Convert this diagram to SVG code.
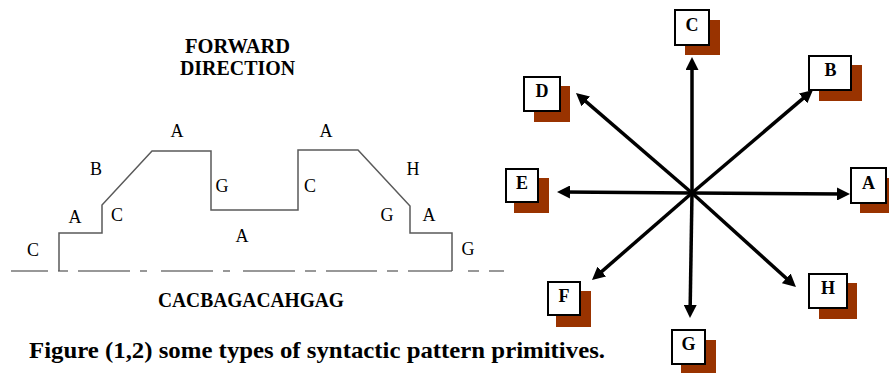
<svg xmlns="http://www.w3.org/2000/svg" width="889" height="373" viewBox="0 0 889 373">
<defs>
<style>
.lbl{font-family:'Liberation Serif',Tinos,'Times New Roman',Times,serif;font-size:18px;fill:#000;text-anchor:middle}
.bold{font-family:'Liberation Serif',Tinos,'Times New Roman',Times,serif;font-weight:bold;fill:#000}
.ttl{font-size:21px}
.prof{fill:none;stroke:#5a5a5a;stroke-width:1.5}
.base{fill:none;stroke:#333;stroke-width:1.2}
.box{fill:#fff;stroke:#000;stroke-width:2}
.shd{fill:#993300}
.blet{font-family:'Liberation Serif',Tinos,'Times New Roman',Times,serif;font-weight:bold;font-size:18px;text-anchor:middle;fill:#000}
.arr{stroke:#000;stroke-width:3.5;fill:none;marker-end:url(#ah)}
</style>
<marker id="ah" viewBox="0 0 13 13" refX="7" refY="6.5" markerWidth="13" markerHeight="13" markerUnits="userSpaceOnUse" orient="auto">
<path d="M0,0 L13,6.5 L0,13 z" fill="#000"/>
</marker>
</defs>
<rect width="889" height="373" fill="#fff"/>

<g id="left-diagram">
<text class="bold ttl" x="185" y="53" textLength="105" lengthAdjust="spacingAndGlyphs">FORWARD</text>
<text class="bold ttl" x="180" y="75" textLength="115" lengthAdjust="spacingAndGlyphs">DIRECTION</text>
<path class="base" d="M11,271H48 M58,271H68 M78,271H130 M140,271H147 M161,271H213 M223,271H230 M243,271H295 M305,271H316 M326,271H377 M387,271H398 M408,271H452 M468,271H479 M489,271H504"/>
<path class="prof" d="M59,271 V233 H102 V205 L152,151 H211 V210 H298 V150 H358 L410,206 V233 H452 V271"/>
<text class="lbl" x="33" y="256">C</text>
<text class="lbl" x="75" y="223">A</text>
<text class="lbl" x="117" y="221">C</text>
<text class="lbl" x="96" y="175">B</text>
<text class="lbl" x="177" y="137">A</text>
<text class="lbl" x="222" y="192">G</text>
<text class="lbl" x="310" y="192">C</text>
<text class="lbl" x="242" y="242">A</text>
<text class="lbl" x="326" y="137">A</text>
<text class="lbl" x="413" y="175">H</text>
<text class="lbl" x="387" y="221">G</text>
<text class="lbl" x="429" y="221">A</text>
<text class="lbl" x="468" y="255">G</text>
<text class="bold" x="158" y="307" font-size="20" textLength="186" lengthAdjust="spacingAndGlyphs">CACBAGACAHGAG</text>
</g>

<text class="bold" x="29" y="358" font-size="24" textLength="576" lengthAdjust="spacingAndGlyphs">Figure (1,2) some types of syntactic pattern primitives.</text>

<g id="connectors">
<line class="arr" x1="692" y1="193" x2="692" y2="63"/>
<line class="arr" x1="692" y1="193" x2="808.4" y2="93.9"/>
<line class="arr" x1="692" y1="193" x2="580.5" y2="96.9"/>
<line class="arr" x1="692" y1="193" x2="563" y2="192"/>
<line class="arr" x1="692" y1="193" x2="844" y2="194"/>
<line class="arr" x1="692" y1="193" x2="596.5" y2="276.1"/>
<line class="arr" x1="692" y1="193" x2="690.1" y2="312"/>
<line class="arr" x1="692" y1="193" x2="791.5" y2="283"/>
</g>

<g id="node-C"><rect class="shd" x="685" y="20" width="35" height="35"/><rect class="box" x="675" y="10" width="34" height="35"/><text class="blet" x="692" y="30.5">C</text></g>
<g id="node-B"><rect class="shd" x="819" y="65" width="43" height="36"/><rect class="box" x="809" y="56" width="42" height="34"/><text class="blet" x="830.5" y="76">B</text></g>
<g id="node-D"><rect class="shd" x="534" y="86" width="36" height="36"/><rect class="box" x="524" y="77" width="36" height="34"/><text class="blet" x="542" y="97">D</text></g>
<g id="node-E"><rect class="shd" x="514" y="178" width="35" height="35"/><rect class="box" x="506" y="169" width="32" height="33"/><text class="blet" x="522" y="188.5">E</text></g>
<g id="node-A"><rect class="shd" x="860" y="178" width="35" height="35"/><rect class="box" x="851" y="168" width="35" height="35"/><text class="blet" x="868.5" y="189">A</text></g>
<g id="node-F"><rect class="shd" x="556" y="291" width="35" height="36"/><rect class="box" x="548" y="282" width="32" height="33"/><text class="blet" x="564" y="301.5">F</text></g>
<g id="node-G"><rect class="shd" x="681" y="340" width="35" height="35"/><rect class="box" x="672" y="330" width="33" height="34"/><text class="blet" x="688.5" y="350">G</text></g>
<g id="node-H"><rect class="shd" x="819" y="283" width="38" height="36"/><rect class="box" x="809" y="274" width="38" height="34"/><text class="blet" x="828" y="294">H</text></g>
</svg>
